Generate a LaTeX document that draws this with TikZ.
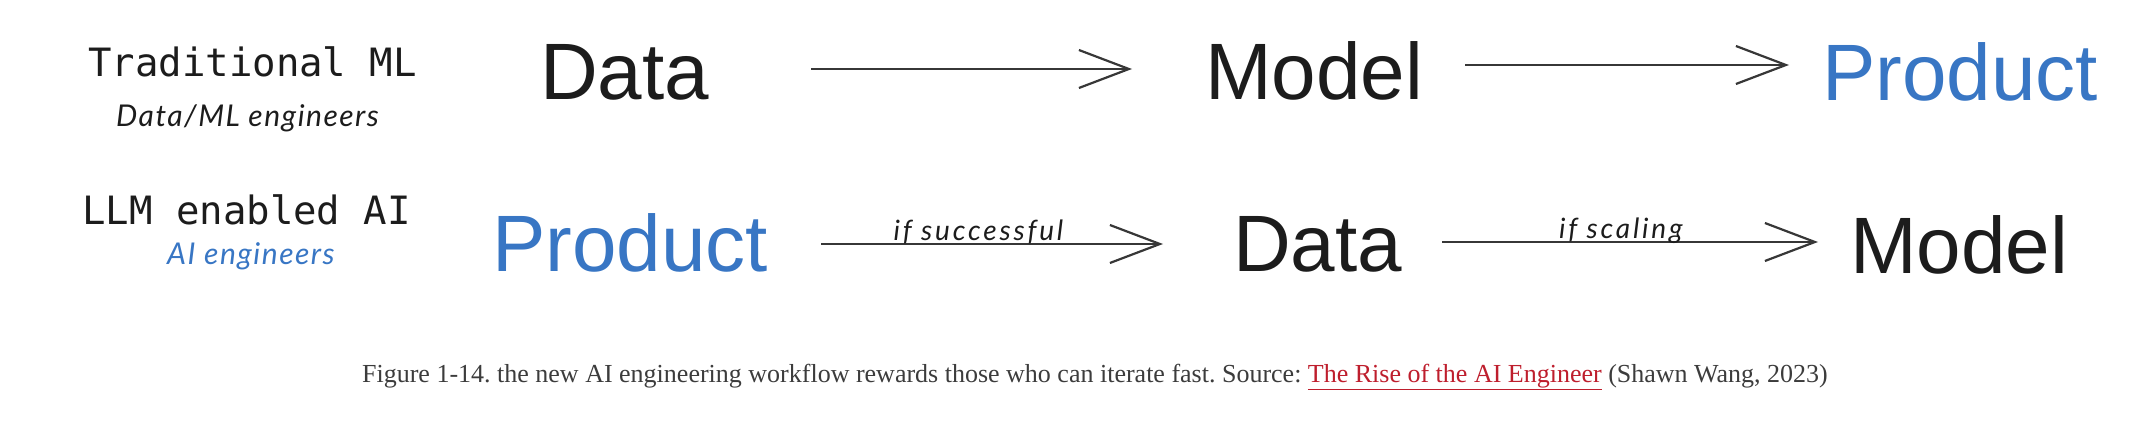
\documentclass[tikz,border=0pt]{standalone}
\usepackage{fontspec}
\setmainfont{Liberation Sans}
\newfontfamily\monof{DejaVu Sans Mono}
\newfontfamily\handf{Lato}
\newfontfamily\capf{Liberation Serif}
\usetikzlibrary{arrows.meta,calc}
\definecolor{ink}{RGB}{28,28,28}
\definecolor{pblue}{RGB}{56,118,196}
\definecolor{arrgray}{RGB}{55,55,55}
\definecolor{capgray}{RGB}{60,60,60}
\definecolor{linkred}{RGB}{190,30,45}
\frenchspacing
\tikzset{
  big/.style={inner sep=0pt, anchor=base west, font=\fontsize{80}{80}\selectfont, text=ink},
  bigblue/.style={big, text=pblue},
  role/.style={inner sep=0pt, anchor=base west, font=\monof\fontsize{39}{39}\selectfont, text=ink},
  who/.style={inner sep=0pt, anchor=base west, font=\handf\itshape\fontsize{30}{30}\selectfont\addfontfeature{LetterSpace=5}, text=ink},
  lbl/.style={inner sep=0pt, anchor=base, font=\handf\itshape\fontsize{28}{28}\selectfont\addfontfeature{LetterSpace=10}, text=ink},
  arr/.style={draw=arrgray, line width=2.2pt, -{Straight Barb[length=50pt,width=38pt,line width=2.2pt]}},
}
\begin{document}
\begin{tikzpicture}[x=1pt,y=-1pt]
\useasboundingbox (0,0) rectangle (2144,430);
% row 1
\node[role] (trad) at (88,77) {Traditional ML};
\node[who] (dml) at (116,127) {Data/ML engineers};
\node[big] (data1) at (540,100) {Data};
\node[big] (model1) at (1205,100) {Model};
\node[bigblue] (prod1) at (1822,101) {Product};
\draw[arr] ($(data1.base east)+(102,-31)$) -- ($(model1.base west)+(-73,-31)$);
\draw[arr] ($(model1.base east)+(42,-35)$) -- ($(prod1.base west)+(-33,-36)$);
% row 2
\node[role] (llm) at (82,225) {LLM enabled AI};
\node[who, text=pblue] (aieng) at (167,265) {AI engineers};
\node[bigblue] (prod2) at (492,272) {Product};
\node[big] (data2) at (1233,272) {Data};
\node[big] (model2) at (1850,274) {Model};
\draw[arr] ($(prod2.base east)+(53,-28)$) -- node[lbl, pos=0.46, yshift=3pt] (succ) {if successful} ($(data2.base west)+(-70,-28)$);
\draw[arr] ($(data2.base east)+(40,-30)$) -- node[lbl, pos=0.475, yshift=3pt] (scal) {if scaling} ($(model2.base west)+(-32,-32)$);
% caption
\node[inner sep=0pt, anchor=base, font=\capf\fontsize{26}{26}\selectfont, text=capgray] (cap) at (1095,382)
  {Figure 1-14. the new AI engineering workflow rewards those who can iterate fast. Source: \textcolor{linkred}{\underline{The Rise of the AI Engineer}} (Shawn Wang, 2023)};
\end{tikzpicture}
\end{document}
